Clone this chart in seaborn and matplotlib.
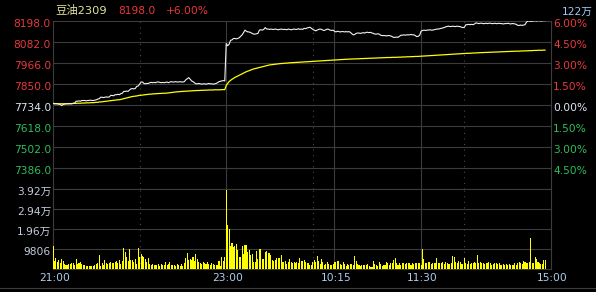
import matplotlib
matplotlib.use("Agg")
import matplotlib.pyplot as plt
import matplotlib.transforms as mtransforms
from matplotlib.lines import Line2D
import seaborn as sns

# ---------------- data (one value per trading minute) ----------------
price = [
    7742, 7740, 7740, 7740, 7738, 7736, 7730, 7736, 7738, 7740,
    7740, 7740, 7740, 7740, 7742, 7744, 7754, 7754, 7756, 7754,
    7758, 7758, 7758, 7756, 7758, 7758, 7760, 7758, 7758, 7760,
    7762, 7766, 7768, 7776, 7776, 7774, 7776, 7778, 7776, 7778,
    7786, 7786, 7784, 7790, 7790, 7792, 7790, 7796, 7798, 7808,
    7808, 7810, 7808, 7816, 7822, 7824, 7822, 7824, 7836, 7838,
    7848, 7860, 7860, 7852, 7850, 7852, 7852, 7856, 7858, 7856,
    7858, 7856, 7860, 7860, 7858, 7856, 7858, 7856, 7858, 7860,
    7856, 7860, 7862, 7860, 7860, 7862, 7860, 7860, 7862, 7860,
    7860, 7862, 7872, 7878, 7884, 7876, 7866, 7862, 7856, 7850,
    7850, 7852, 7850, 7848, 7850, 7850, 7848, 7850, 7852, 7850,
    7850, 7848, 7850, 7852, 7856, 7862, 7864, 7866, 7868, 7866,
    8072, 8060, 8068, 8090, 8092, 8100, 8100, 8098, 8100, 8104,
    8112, 8120, 8132, 8146, 8140, 8136, 8136, 8132, 8128, 8124,
    8124, 8126, 8128, 8146, 8148, 8146, 8150, 8160, 8152, 8152,
    8150, 8152, 8150, 8150, 8152, 8150, 8148, 8150, 8152, 8150,
    8150, 8150, 8148, 8152, 8150, 8148, 8150, 8152, 8150, 8150,
    8154, 8150, 8152, 8150, 8156, 8154, 8158, 8160, 8162, 8156,
    8150, 8146, 8142, 8146, 8150, 8152, 8150, 8146, 8144, 8148,
    8152, 8150, 8146, 8144, 8146, 8140, 8136, 8140, 8138, 8136,
    8138, 8138, 8136, 8138, 8136, 8138, 8134, 8126, 8120, 8122,
    8128, 8130, 8130, 8128, 8130, 8132, 8130, 8134, 8134, 8132,
    8134, 8130, 8128, 8124, 8124, 8126, 8124, 8118, 8116, 8116,
    8116, 8114, 8116, 8116, 8114, 8110, 8106, 8106, 8108, 8106,
    8112, 8118, 8118, 8120, 8118, 8120, 8120, 8120, 8122, 8120,
    8120, 8116, 8110, 8112, 8118, 8140, 8144, 8146, 8144, 8146,
    8146, 8148, 8146, 8146, 8148, 8150, 8152, 8152, 8154, 8156,
    8158, 8160, 8164, 8166, 8168, 8166, 8166, 8168, 8166, 8166,
    8168, 8166, 8166, 8162, 8160, 8162, 8176, 8176, 8178, 8176,
    8178, 8176, 8180, 8186, 8184, 8182, 8184, 8184, 8182, 8182,
    8184, 8182, 8184, 8184, 8182, 8182, 8184, 8182, 8182, 8184,
    8182, 8182, 8180, 8182, 8182, 8184, 8182, 8180, 8182, 8182,
    8180, 8178, 8172, 8172, 8174, 8172, 8174, 8176, 8190, 8196,
    8196, 8194, 8196, 8196, 8198, 8196, 8198, 8198, 8196, 8198,
    8198, 8198,
]

avg_price = [
    7742, 7741, 7741, 7740, 7740, 7740, 7740, 7740, 7740, 7740,
    7740, 7741, 7741, 7741, 7742, 7742, 7742, 7743, 7743, 7743,
    7744, 7744, 7744, 7745, 7745, 7745, 7746, 7746, 7746, 7747,
    7748, 7748, 7750, 7750, 7751, 7752, 7753, 7754, 7755, 7756,
    7757, 7758, 7759, 7760, 7761, 7762, 7762, 7764, 7766, 7768,
    7770, 7772, 7774, 7776, 7778, 7780, 7781, 7782, 7783, 7785,
    7786, 7787, 7788, 7789, 7790, 7791, 7792, 7793, 7793, 7794,
    7795, 7795, 7796, 7796, 7797, 7797, 7798, 7798, 7798, 7799,
    7800, 7801, 7802, 7803, 7804, 7805, 7806, 7806, 7807, 7808,
    7808, 7809, 7809, 7810, 7810, 7811, 7811, 7812, 7812, 7813,
    7813, 7813, 7814, 7814, 7814, 7815, 7815, 7815, 7816, 7816,
    7816, 7816, 7817, 7817, 7817, 7817, 7817, 7818, 7818, 7818,
    7840, 7852, 7862, 7869, 7875, 7880, 7885, 7889, 7893, 7897,
    7901, 7905, 7909, 7913, 7917, 7920, 7923, 7926, 7929, 7932,
    7934, 7936, 7938, 7940, 7942, 7944, 7946, 7948, 7950, 7952,
    7954, 7955, 7956, 7957, 7958, 7959, 7960, 7961, 7962, 7962,
    7963, 7964, 7964, 7965, 7966, 7966, 7967, 7967, 7968, 7968,
    7969, 7969, 7970, 7970, 7971, 7971, 7972, 7972, 7973, 7973,
    7974, 7974, 7975, 7975, 7976, 7976, 7977, 7977, 7978, 7978,
    7979, 7979, 7980, 7980, 7981, 7981, 7982, 7982, 7983, 7983,
    7984, 7984, 7985, 7985, 7986, 7986, 7986, 7987, 7987, 7987,
    7988, 7988, 7988, 7989, 7989, 7989, 7990, 7990, 7990, 7991,
    7991, 7991, 7992, 7992, 7992, 7993, 7993, 7993, 7994, 7994,
    7994, 7995, 7995, 7995, 7995, 7996, 7996, 7996, 7996, 7997,
    7997, 7997, 7998, 7998, 7998, 7999, 7999, 7999, 8000, 8000,
    8000, 8001, 8001, 8001, 8002, 8002, 8003, 8003, 8004, 8004,
    8005, 8005, 8006, 8006, 8007, 8007, 8008, 8008, 8009, 8009,
    8010, 8010, 8011, 8011, 8012, 8012, 8013, 8013, 8014, 8014,
    8015, 8015, 8016, 8016, 8017, 8017, 8018, 8018, 8018, 8019,
    8019, 8020, 8020, 8020, 8021, 8021, 8022, 8022, 8022, 8023,
    8023, 8023, 8024, 8024, 8024, 8025, 8025, 8025, 8026, 8026,
    8026, 8027, 8027, 8027, 8028, 8028, 8028, 8029, 8029, 8029,
    8030, 8030, 8030, 8030, 8031, 8031, 8031, 8032, 8032, 8032,
    8033, 8033, 8033, 8034, 8034, 8034, 8035, 8035, 8035, 8035,
    8036, 8036,
]

volume = [
    11300, 4000, 5600, 3200, 4500, 3000, 4900, 3700, 2600, 2000,
    2100, 2400, 2400, 2900, 2900, 2000, 5000, 2500, 2900, 3400,
    2400, 2000, 1900, 1300, 1600, 1600, 1300, 1600, 1600, 2000,
    2500, 2900, 6900, 1500, 2900, 2000, 4200, 3000, 2400, 3000,
    3400, 2900, 3000, 3500, 3700, 3000, 4200, 2500, 3700, 10500,
    8500, 6100, 3800, 9800, 4600, 4400, 3200, 4900, 2500, 10500,
    5900, 7300, 6600, 5800, 4700, 3500, 5500, 2400, 2000, 2600,
    1900, 2100, 2000, 2600, 1700, 2400, 2100, 1900, 3400, 2000,
    2600, 3200, 2000, 2200, 2000, 1600, 2500, 1900, 1500, 2400,
    1600, 3000, 5500, 7800, 4500, 5000, 4200, 5800, 4000, 7300,
    4800, 3500, 3000, 2500, 3200, 2800, 2300, 3500, 2500, 2200,
    3000, 2500, 2200, 2200, 1800, 3900, 1600, 6000, 3900, 6000,
    38800, 21700, 19400, 11200, 12900, 10800, 11200, 12500, 9200, 5800,
    5800, 11200, 7400, 12000, 12000, 8400, 9200, 6800, 7300, 3200,
    3200, 8700, 4800, 9700, 9700, 4800, 4800, 8400, 8700, 7600,
    7600, 7100, 4400, 3900, 4200, 5500, 5500, 5500, 6800, 3600,
    3200, 3900, 2300, 3600, 4800, 3200, 2700, 3600, 2700, 3600,
    2700, 5500, 3900, 3900, 4200, 3600, 2700, 2700, 1900, 1900,
    3200, 4400, 3200, 6500, 3900, 2300, 4800, 3200, 1900, 2300,
    3200, 2300, 1900, 1900, 2300, 3600, 3200, 3900, 3900, 2300,
    1900, 3600, 2300, 1300, 2300, 1900, 2300, 2300, 1900, 6500,
    3900, 2300, 1900, 1600, 1900, 1900, 1900, 1900, 2300, 1600,
    1100, 1100, 4000, 2600, 1900, 1600, 3200, 2300, 1600, 1900,
    1900, 3600, 3100, 1900, 2700, 2700, 4400, 5200, 2700, 1900,
    2700, 1900, 2700, 3100, 2400, 2700, 2700, 2700, 1900, 2700,
    2300, 3100, 2700, 3100, 3100, 2200, 10000, 4700, 2700, 2700,
    3200, 3200, 2400, 2700, 2700, 3100, 5200, 2700, 2700, 2700,
    3600, 2400, 3600, 3100, 2300, 2300, 3100, 6300, 5700, 3600,
    3100, 4000, 3200, 2400, 2400, 5200, 3100, 2400, 4000, 2400,
    2700, 2700, 3300, 2700, 6800, 2700, 3300, 3000, 2700, 2400,
    3000, 2700, 3300, 2700, 2100, 2300, 3000, 2700, 2400, 2700,
    2100, 2100, 2400, 1800, 2400, 2100, 2400, 2000, 2100, 2100,
    2700, 2100, 3100, 3600, 2700, 2400, 4000, 3600, 2700, 3100,
    3200, 15200, 2700, 2700, 6000, 4700, 3600, 2700, 2300, 2400,
    4400, 4400,
]

minutes = list(range(len(price)))
total_minutes = 345

time_ticks = [0, 120, 195, 255, 345]
time_labels = ["21:00", "23:00", "10:15", "11:30", "15:00"]
solid_vlines = [120, 195, 255]
dotted_vlines = [60, 180, 285]

prev_close = 7734
price_levels = [8198, 8082, 7966, 7850, 7734, 7618, 7502, 7386]
price_labels = ["8198.0", "8082.0", "7966.0", "7850.0", "7734.0", "7618.0", "7502.0", "7386.0"]
pct_labels = ["6.00%", "4.50%", "3.00%", "1.50%", "0.00%", "1.50%", "3.00%", "4.50%"]
price_bottom = 7270

vol_levels = [39224, 29418, 19612, 9806]
vol_labels = ["3.92万", "2.94万", "1.96万", "9806"]

title_name = "豆油2309"
title_price = "8198.0"
title_change = "+6.00%"
title_right = "122万"

# ---------------- style ----------------
BG = "#000000"
GRID = "#3c3c3c"
RED = "#e8393c"
GREEN = "#2cbf5a"
NEUTRAL = "#dfe6f5"
VOLTXT = "#c3cad8"
TIMETXT = "#aecdeb"
YELLOW = "#ffff00"
FS = 7.7

sns.set_style("dark")
plt.rcParams["font.family"] = ["DejaVu Sans", "Noto Sans CJK SC"]
plt.rcParams["axes.unicode_minus"] = False

W, H = 596, 292
fig = plt.figure(figsize=(W / 100, H / 100), dpi=100, facecolor=BG)

L, R = 53, 551
ax_p = fig.add_axes([L / W, 1 - 189 / H, (R - L) / W, (189 - 20.7) / H])
ax_v = fig.add_axes([L / W, 1 - 269 / H, (R - L) / W, (269 - 189) / H])

for ax in (ax_p, ax_v):
    ax.set_facecolor(BG)
    ax.grid(False)
    for s in ax.spines.values():
        s.set_color(GRID)
        s.set_linewidth(0.8)
    ax.tick_params(left=False, bottom=False, labelleft=False, labelbottom=False)
    for xv in solid_vlines:
        ax.axvline(xv, color=GRID, lw=0.8, zorder=0)
    for xv in dotted_vlines:
        ax.axvline(xv, color="#4a4a4a", lw=0.8, ls=(0, (1, 4)), zorder=0)

for lv in price_levels[1:]:
    ax_p.axhline(lv, color=GRID, lw=0.8, zorder=0)
for lv in vol_levels[1:]:
    ax_v.axhline(lv, color=GRID, lw=0.8, zorder=0)

# price & average lines
sns.lineplot(x=minutes, y=avg_price, ax=ax_p, color=YELLOW, linewidth=0.9, zorder=3)
sns.lineplot(x=minutes, y=price, ax=ax_p, color="#f2f2f2", linewidth=0.8, zorder=4)
ax_p.set_xlim(0, total_minutes)
ax_p.set_ylim(price_bottom, price_levels[0])
ax_p.set_xlabel("")
ax_p.set_ylabel("")

# volume bars
sns.barplot(x=minutes, y=volume, ax=ax_v, native_scale=True, color=YELLOW,
            saturation=1, width=0.72, errorbar=None, linewidth=0, zorder=3)
for p in ax_v.patches:
    p.set_antialiased(False)
ax_v.set_xlim(0, total_minutes)
ax_v.set_ylim(0, vol_levels[0])
ax_v.set_xlabel("")
ax_v.set_ylabel("")
ax_v.tick_params(left=False, bottom=False, labelleft=False, labelbottom=False)

# axis labels
def lab_color(v):
    if v > prev_close:
        return RED
    if v < prev_close:
        return GREEN
    return NEUTRAL

tl = mtransforms.offset_copy(
    mtransforms.blended_transform_factory(ax_p.transAxes, ax_p.transData),
    fig=fig, x=-2, y=-3, units="dots")
tr = mtransforms.offset_copy(
    mtransforms.blended_transform_factory(ax_p.transAxes, ax_p.transData),
    fig=fig, x=2, y=-3, units="dots")
for lv, lt, pt in zip(price_levels, price_labels, pct_labels):
    c = lab_color(lv)
    ax_p.text(0, lv, lt, transform=tl, ha="right", va="center", color=c, fontsize=FS)
    ax_p.text(1, lv, pt, transform=tr, ha="left", va="center", color=c, fontsize=FS)

tv = mtransforms.offset_copy(
    mtransforms.blended_transform_factory(ax_v.transAxes, ax_v.transData),
    fig=fig, x=-2, y=-3, units="dots")
for lv, lt in zip(vol_levels, vol_labels):
    ax_v.text(0, lv, lt, transform=tv, ha="right", va="center", color=VOLTXT, fontsize=FS)

tt = mtransforms.offset_copy(
    mtransforms.blended_transform_factory(ax_v.transData, fig.transFigure),
    fig=fig, x=1.5, y=0, units="dots")
for xv, lt in zip(time_ticks, time_labels):
    ax_v.text(xv, 1 - 278 / H, lt, transform=tt, ha="center", va="center",
              color=TIMETXT, fontsize=FS)

# header
fig.text(55 / W, 1 - 10.5 / H, title_name, ha="left", va="center", color="#e4e49a", fontsize=8.2)
fig.text(118 / W, 1 - 10.5 / H, title_price, ha="left", va="center", color=RED, fontsize=FS)
fig.text(166 / W, 1 - 10.5 / H, title_change, ha="left", va="center", color=RED, fontsize=FS)
fig.text(593 / W, 1 - 11.5 / H, title_right, ha="right", va="center", color="#9fc8f0", fontsize=FS)

# bottom separator
fig.add_artist(Line2D([0, 1], [1 - 288 / H, 1 - 288 / H], transform=fig.transFigure,
                      color=GRID, lw=0.8))

fig.savefig("out.png", dpi=100, facecolor=BG)
